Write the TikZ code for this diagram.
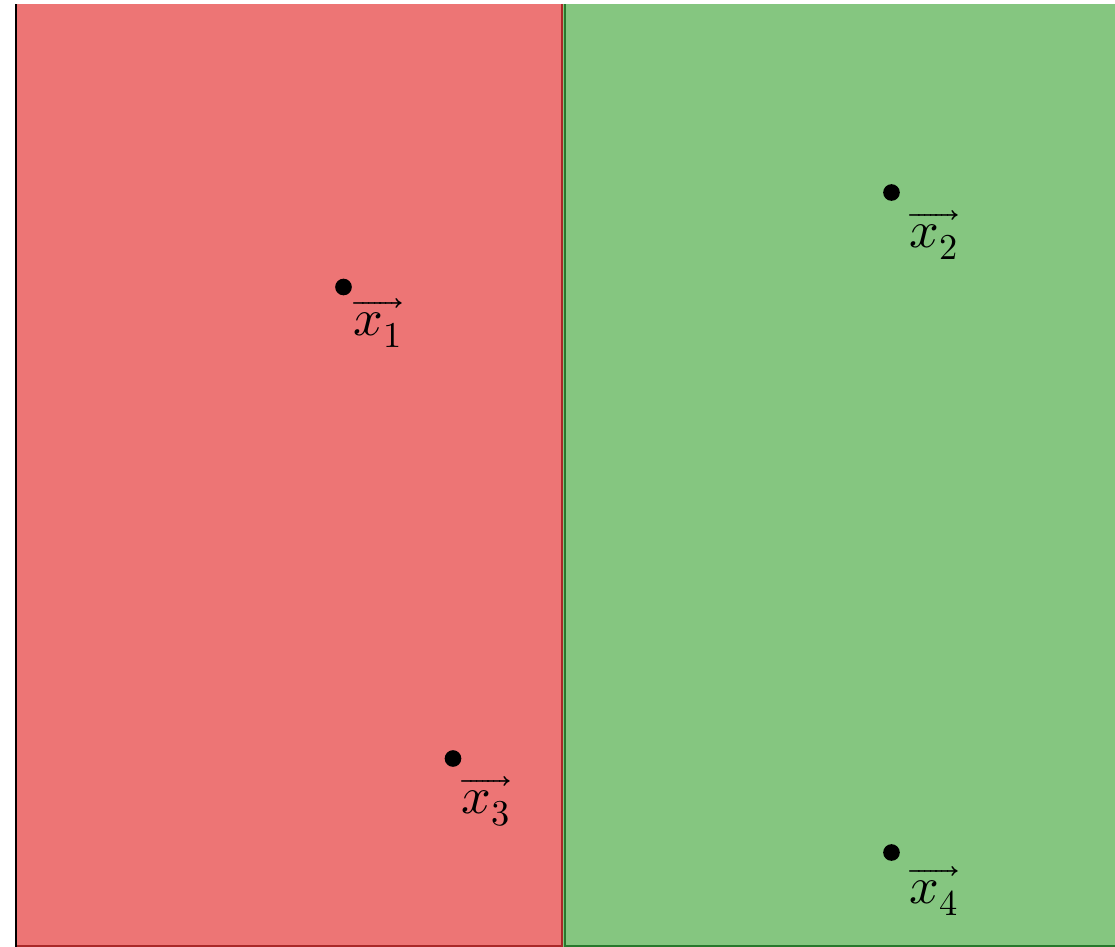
\documentclass[tikz,border=0pt]{standalone}
\usepackage{unicode-math}
\setmathfont{Latin Modern Math}
\definecolor{regred}{RGB}{237,117,117}
\definecolor{regredb}{RGB}{170,40,40}
\definecolor{reggreen}{RGB}{133,198,128}
\definecolor{reggreenb}{RGB}{40,120,45}
\tikzset{
  pt/.style={circle,fill=black,inner sep=0pt,minimum size=12.5},
  lbl/.style={anchor=base west,inner sep=0pt,font=\fontsize{39}{42}\selectfont}
}
\begin{document}
\begin{tikzpicture}[x=0.75pt,y=-0.75pt]
\useasboundingbox (0,0) rectangle (1115,947);
\clip (0,0) rectangle (1115,947);
% regions
\fill[regred] (15,4) rectangle (563,947);
\fill[reggreen] (563,4) rectangle (1120,947);
\draw[regredb,line width=1.5] (562,4) -- (562,946) -- (15,946);
\draw[reggreenb,line width=2] (565,4) -- (565,946) -- (1120,946);
\draw[black,line width=1.5] (15.5,4) -- (15.5,947);
% points
\node[pt] (p1) at (343.5,287) {};
\node[pt] (p2) at (891.5,192.5) {};
\node[pt] (p3) at (453,758.5) {};
\node[pt] (p4) at (891.5,852.5) {};
\node[lbl] (l1) at (353,335) {$\overrightarrow{x_1}$};
\node[lbl] (l2) at (909,247) {$\overrightarrow{x_2}$};
\node[lbl] (l3) at (461,813) {$\overrightarrow{x_3}$};
\node[lbl] (l4) at (909,903) {$\overrightarrow{x_4}$};
\end{tikzpicture}
\end{document}
